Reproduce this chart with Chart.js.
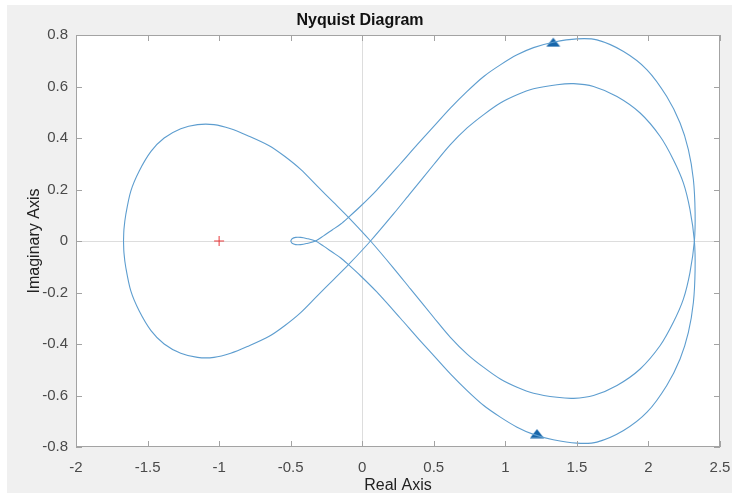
<!DOCTYPE html>
<html><head><meta charset="utf-8">
<script src="https://cdn.jsdelivr.net/npm/chart.js@4.4.0/dist/chart.umd.min.js"></script>
<style>html,body{margin:0;padding:0;background:#fff;overflow:hidden}</style>
</head><body>
<canvas id="c" width="732" height="495"></canvas>
<script>
const xTicks = [-2, -1.5, -1, -0.5, 0, 0.5, 1, 1.5, 2, 2.5];
const xTickLabels = ['-2', '-1.5', '-1', '-0.5', '0', '0.5', '1', '1.5', '2', '2.5'];
const yTicks = [-0.8, -0.6, -0.4, -0.2, 0, 0.2, 0.4, 0.6, 0.8];
const yTickLabels = ['-0.8', '-0.6', '-0.4', '-0.2', '0', '0.2', '0.4', '0.6', '0.8'];

// positive-frequency branch
const posRe = [-0.500,-0.490,-0.465,-0.430,-0.390,-0.326,-0.270,-0.210,-0.150,-0.096,-0.012,0.100,0.267,0.384,0.500,0.616,0.733,0.849,0.965,1.082,1.197,1.335,1.500,1.640,1.826,1.990,2.128,2.221,2.279,2.314,2.326,2.321,2.290,2.244,2.174,2.082,1.942,1.780,1.616,1.477,1.361,1.197,1.082,0.965,0.849,0.733,0.616,0.500,0.337,0.220,0.058,-0.096,-0.200,-0.314,-0.430,-0.540,-0.650,-0.803,-0.919,-1.036,-1.151,-1.268,-1.384,-1.476,-1.559,-1.617,-1.652,-1.665,-1.668];
const posIm = [0.000,-0.009,-0.014,-0.014,-0.010,0.000,0.020,0.043,0.066,0.092,0.135,0.197,0.300,0.374,0.445,0.516,0.581,0.639,0.684,0.723,0.751,0.772,0.785,0.781,0.736,0.665,0.561,0.458,0.355,0.239,0.111,0.000,-0.123,-0.226,-0.316,-0.406,-0.497,-0.561,-0.600,-0.611,-0.607,-0.591,-0.568,-0.536,-0.491,-0.439,-0.374,-0.297,-0.186,-0.106,0.000,0.092,0.150,0.213,0.278,0.328,0.370,0.410,0.436,0.452,0.452,0.436,0.400,0.348,0.271,0.194,0.103,0.045,0.000];
// negative-frequency branch (mirror image in the picture)
const negRe = [-0.500,-0.490,-0.465,-0.430,-0.390,-0.326,-0.270,-0.210,-0.150,-0.096,-0.012,0.100,0.267,0.384,0.500,0.616,0.733,0.849,0.965,1.082,1.197,1.335,1.500,1.640,1.826,1.990,2.128,2.221,2.279,2.314,2.326,2.321,2.290,2.244,2.174,2.082,1.942,1.780,1.616,1.477,1.361,1.197,1.082,0.965,0.849,0.733,0.616,0.500,0.337,0.220,0.058,-0.096,-0.200,-0.314,-0.430,-0.540,-0.650,-0.803,-0.919,-1.036,-1.151,-1.268,-1.384,-1.476,-1.559,-1.617,-1.652,-1.665,-1.668];
const negIm = [0.000,0.009,0.014,0.014,0.010,0.000,-0.020,-0.043,-0.066,-0.092,-0.135,-0.197,-0.300,-0.374,-0.445,-0.516,-0.581,-0.639,-0.684,-0.723,-0.751,-0.772,-0.785,-0.781,-0.736,-0.665,-0.561,-0.458,-0.355,-0.239,-0.111,0.000,0.123,0.226,0.316,0.406,0.497,0.561,0.600,0.611,0.607,0.591,0.568,0.536,0.491,0.439,0.374,0.297,0.186,0.106,0.000,-0.092,-0.150,-0.213,-0.278,-0.328,-0.370,-0.410,-0.436,-0.452,-0.452,-0.436,-0.400,-0.348,-0.271,-0.194,-0.103,-0.045,0.000];
const arrowRe = [1.335, 1.221];
const arrowIm = [0.772, -0.748];
const critRe = [-1];
const critIm = [0];

const FONT = "'Liberation Sans', Arial, Helvetica, sans-serif";
const lineColor = '#5d9dcf';
const arrowColor = '#1766aa';

function pts(xs, ys) { return xs.map((x, i) => ({x: x, y: ys[i]})); }

// flat triangle marker
const tri = document.createElement('canvas');
tri.width = 16; tri.height = 10;
(function () {
  const g = tri.getContext('2d');
  g.fillStyle = arrowColor;
  g.beginPath(); g.moveTo(1, 9.5); g.lineTo(15, 9.5); g.lineTo(8, 0.5); g.closePath(); g.fill();
})();

const bgPlugin = {
  id: 'bg',
  beforeDraw(chart) {
    const {ctx, chartArea: a} = chart;
    ctx.save();
    ctx.fillStyle = '#ffffff'; ctx.fillRect(0, 0, chart.width, chart.height);
    ctx.fillStyle = '#f0f0f0'; ctx.fillRect(7, 5, chart.width - 7, chart.height - 7);
    ctx.fillStyle = '#ffffff'; ctx.fillRect(a.left, a.top, a.right - a.left, a.bottom - a.top);
    ctx.restore();
  },
  afterDatasetsDraw(chart) {
    const {ctx, chartArea: a, scales: {x, y}} = chart;
    ctx.save();
    ctx.strokeStyle = '#a3a3a3'; ctx.lineWidth = 1;
    ctx.strokeRect(a.left + 0.5, a.top + 0.5, a.right - a.left - 1, a.bottom - a.top - 1);
    ctx.beginPath();
    const L = 6;
    xTicks.forEach(v => {
      const px = Math.round(x.getPixelForValue(v)) + 0.5;
      ctx.moveTo(px, a.bottom); ctx.lineTo(px, a.bottom - L);
      ctx.moveTo(px, a.top); ctx.lineTo(px, a.top + L);
    });
    yTicks.forEach(v => {
      const py = Math.round(y.getPixelForValue(v)) + 0.5;
      ctx.moveTo(a.left, py); ctx.lineTo(a.left + L, py);
      ctx.moveTo(a.right, py); ctx.lineTo(a.right - L, py);
    });
    ctx.stroke();
    ctx.restore();
  }
};

new Chart(document.getElementById('c'), {
  type: 'scatter',
  data: {
    datasets: [
      {data: pts(posRe, posIm), showLine: true, borderColor: lineColor, borderWidth: 1.1, pointRadius: 0, tension: 0.3, fill: false},
      {data: pts(negRe, negIm), showLine: true, borderColor: lineColor, borderWidth: 1.1, pointRadius: 0, tension: 0.3, fill: false},
      {data: pts(critRe, critIm), showLine: false, pointStyle: 'cross', pointRadius: 5, borderColor: '#e8393a', borderWidth: 1},
      {data: pts(arrowRe, arrowIm), showLine: false, pointStyle: tri, pointRadius: 7}
    ]
  },
  options: {
    responsive: false,
    animation: false,
    devicePixelRatio: 1,
    layout: {padding: {left: 0, right: 12, top: 0, bottom: 0}},
    plugins: {
      legend: {display: false},
      tooltip: {enabled: false},
      title: {display: true, text: 'Nyquist Diagram', color: '#111111',
        font: {family: FONT, size: 16, weight: 'bold'}, padding: {top: 11, bottom: 4.8}}
    },
    scales: {
      x: {
        type: 'linear', min: -2, max: 2.5,
        afterBuildTicks: s => { s.ticks = xTicks.map(v => ({value: v})); },
        afterFit: s => { s.height = 48; s.paddingLeft = 0; s.paddingRight = 0; },
        ticks: {callback: (v, i) => xTickLabels[i], color: '#4a4a4a', font: {family: FONT, size: 15},
          padding: 12, maxRotation: 0, autoSkip: false},
        grid: {drawTicks: false, lineWidth: 1,
          color: c => (c.tick && c.tick.value === 0) ? '#dddddd' : 'rgba(0,0,0,0)'},
        border: {display: false},
        title: {display: true, text: 'Real Axis', color: '#222222', font: {family: FONT, size: 16}, padding: {top: 0, bottom: 0}}
      },
      y: {
        type: 'linear', min: -0.8, max: 0.8,
        afterBuildTicks: s => { s.ticks = yTicks.map(v => ({value: v})); },
        afterFit: s => { s.width = 76; s.paddingTop = 0; s.paddingBottom = 0; },
        ticks: {callback: (v, i) => yTickLabels[i], color: '#4a4a4a', font: {family: FONT, size: 15},
          padding: 8, autoSkip: false},
        grid: {drawTicks: false, lineWidth: 1,
          color: c => (c.tick && c.tick.value === 0) ? '#dddddd' : 'rgba(0,0,0,0)'},
        border: {display: false},
        title: {display: true, text: 'Imaginary Axis', color: '#222222', font: {family: FONT, size: 16}, padding: {top: 25, bottom: 0}}
      }
    }
  },
  plugins: [bgPlugin]
});
</script>
</body></html>
